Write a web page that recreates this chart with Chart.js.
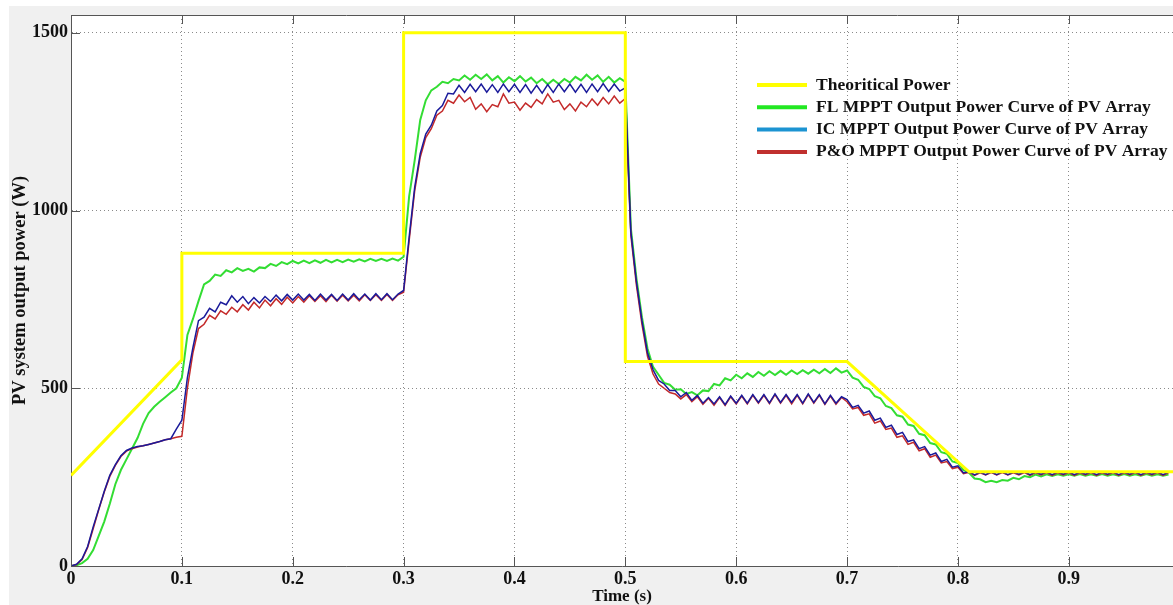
<!DOCTYPE html>
<html>
<head>
<meta charset="utf-8">
<title>PV system output power</title>
<script src="https://cdn.jsdelivr.net/npm/chart.js@4.4.1/dist/chart.umd.min.js"></script>
<style>
  html, body { margin: 0; padding: 0; background: #ffffff; }
  #wrap { width: 1173px; height: 605px; position: relative; }
</style>
</head>
<body>
<div id="wrap"><canvas id="powerChart"></canvas></div>
<script>
// sample step of the simulated curves (s)
const STEP = 0.005;

const xTicks = [0, 0.1, 0.2, 0.3, 0.4, 0.5, 0.6, 0.7, 0.8, 0.9];
const yTicks = [0, 500, 1000, 1500];

const theoryTime = [0, 0.1, 0.1, 0.3, 0.3, 0.5, 0.5, 0.7, 0.81, 0.994];
const theoryPower = [255, 580, 880, 880, 1500, 1500, 575, 575, 265, 265];

const flPower = [
  0, 2, 8, 20, 45, 85, 125, 175, 230, 270,
  300, 330, 360, 400, 430, 448, 462, 475, 488, 500,
  530, 650, 695, 745, 792, 802, 820, 816, 832, 826,
  838, 830, 836, 828, 840, 838, 850, 844, 855, 849,
  858, 851, 859, 852, 860, 853, 861, 854, 861, 855,
  862, 856, 863, 857, 864, 858, 864, 858, 865, 859,
  870, 1040, 1141, 1255, 1310, 1338, 1348, 1362, 1358, 1370,
  1366, 1380, 1368, 1382, 1370, 1383, 1366, 1378, 1360, 1375,
  1364, 1378, 1363, 1374, 1358, 1370, 1355, 1368, 1356, 1370,
  1360, 1376, 1366, 1382, 1368, 1380, 1362, 1376, 1360, 1372,
  1362, 950, 810, 700, 612, 560, 538, 515, 510, 496,
  497, 484, 489, 480, 494, 492, 512, 508, 528, 522,
  538, 528, 542, 532, 546, 535, 548, 537, 549, 538,
  550, 540, 551, 541, 552, 542, 554, 543, 556, 544,
  550, 530, 524, 504, 498, 478, 472, 450, 444, 424,
  420, 398, 394, 372, 368, 346, 342, 320, 316, 294,
  290, 270, 262, 246, 244, 236, 240, 236, 242, 240,
  248, 244, 253, 250, 257, 252, 258, 253, 258, 254,
  258, 254, 259, 254, 258, 254, 259, 254, 258, 254,
  259, 254, 258, 254, 259, 254, 258, 254, 257
];

const icPower = [
  0, 5, 20, 55, 110, 160, 210, 255, 285, 310,
  325, 332, 336, 338, 342, 346, 350, 355, 358, 385,
  410, 530, 615, 690, 700, 725, 715, 742, 735, 760,
  742, 758, 738, 755, 740, 758, 744, 762, 746, 764,
  748, 765, 748, 764, 747, 765, 748, 764, 747, 765,
  748, 766, 749, 765, 748, 766, 749, 766, 749, 765,
  775, 925, 1065, 1160, 1215, 1240, 1280, 1295, 1330, 1328,
  1352, 1332, 1355, 1334, 1356, 1333, 1354, 1332, 1356, 1334,
  1355, 1332, 1354, 1330, 1352, 1330, 1354, 1332, 1356, 1334,
  1356, 1333, 1355, 1332, 1356, 1334, 1357, 1335, 1356, 1336,
  1345, 940, 800, 690, 600, 552, 522, 512, 494, 494,
  476, 488, 466, 480, 458, 474, 456, 476, 454, 478,
  458, 480, 458, 482, 460, 482, 459, 484, 460, 482,
  460, 482, 458, 484, 460, 482, 456, 480, 458, 476,
  468, 446, 452, 430, 436, 410, 416, 390, 396, 370,
  376, 350, 355, 330, 336, 312, 318, 294, 300, 278,
  282, 262, 266, 256, 264, 257, 265, 257, 265, 257,
  264, 258, 265, 257, 264, 258, 265, 257, 264, 258,
  265, 257, 264, 258, 265, 257, 264, 258, 265, 257,
  264, 258, 265, 257, 264, 258, 265, 257, 264
];

const poPower = [
  0, 4, 18, 52, 105, 158, 208, 252, 283, 308,
  323, 330, 335, 338, 342, 346, 350, 355, 358, 362,
  365, 500, 600, 668, 680, 705, 695, 718, 708, 728,
  715, 735, 720, 742, 726, 748, 732, 752, 736, 756,
  740, 758, 742, 760, 744, 760, 744, 762, 745, 762,
  746, 762, 746, 763, 747, 763, 747, 764, 747, 763,
  770, 915, 1055, 1150, 1205, 1230, 1268, 1280, 1310, 1302,
  1325, 1306, 1318, 1285, 1300, 1278, 1298, 1292, 1328, 1302,
  1305, 1282, 1302, 1290, 1312, 1300, 1328, 1305, 1310, 1284,
  1300, 1280, 1305, 1292, 1314, 1296, 1318, 1300, 1322, 1302,
  1315, 930, 790, 680, 590, 540, 512, 500, 488, 484,
  470, 482, 462, 476, 455, 472, 452, 474, 452, 476,
  456, 478, 456, 480, 458, 480, 457, 482, 458, 480,
  456, 480, 456, 482, 458, 480, 455, 478, 455, 474,
  462, 442, 446, 424, 428, 402, 408, 384, 388, 362,
  366, 342, 348, 324, 330, 306, 312, 290, 294, 274,
  278, 260, 264, 255, 262, 256, 263, 256, 263, 256,
  262, 256, 263, 255, 262, 256, 263, 255, 262, 256,
  263, 255, 262, 256, 263, 255, 262, 256, 263, 255,
  262, 256, 263, 255, 262, 256, 263, 255, 262
];

const seriesNames = [
  "Theoritical Power",
  "FL MPPT Output Power Curve of PV Array",
  "IC MPPT Output Power Curve of PV Array",
  "P&O MPPT Output Power Curve of PV Array"
];
const legendColors = ["#ffff00", "#22e822", "#1c94d2", "#c0302e"];

function toPoints(values) {
  return values.map((v, i) => ({ x: i * STEP, y: v }));
}

const serif = '"Liberation Serif", "Times New Roman", serif';

const framePlugin = {
  id: "frame",
  beforeDraw(chart) {
    const ctx = chart.ctx;
    const a = chart.chartArea;
    ctx.save();
    ctx.fillStyle = "#ffffff";
    ctx.fillRect(0, 0, chart.width, chart.height);
    ctx.fillStyle = "#f0f0f0";
    ctx.fillRect(9, 6, chart.width - 9, chart.height - 6);
    ctx.fillStyle = "#ffffff";
    ctx.fillRect(a.left, a.top, a.right - a.left, a.bottom - a.top);
    ctx.restore();
  },
  afterDraw(chart) {
    const ctx = chart.ctx;
    const a = chart.chartArea;
    const xs = chart.scales.x;
    const ys = chart.scales.y;
    ctx.save();
    ctx.strokeStyle = "#555555";
    ctx.lineWidth = 1;
    ctx.beginPath();
    ctx.moveTo(a.left, a.top + 0.5);
    ctx.lineTo(a.right, a.top + 0.5);
    // inward tick marks
    xs.ticks.forEach((t) => {
      const px = Math.round(xs.getPixelForValue(t.value)) + 0.5;
      ctx.moveTo(px, a.bottom);
      ctx.lineTo(px, a.bottom - 9);
      ctx.moveTo(px, a.top);
      ctx.lineTo(px, a.top + 9);
    });
    ys.ticks.forEach((t) => {
      const py = Math.round(ys.getPixelForValue(t.value)) + 0.5;
      ctx.moveTo(a.left, py);
      ctx.lineTo(a.left + 9, py);
    });
    ctx.stroke();

    // legend
    ctx.font = "bold 17.5px " + serif;
    ctx.textBaseline = "middle";
    ctx.fillStyle = "#111111";
    seriesNames.forEach((name, i) => {
      const y = 85 + i * 22.3;
      ctx.strokeStyle = legendColors[i];
      ctx.lineWidth = 4;
      ctx.beginPath();
      ctx.moveTo(757, y);
      ctx.lineTo(807, y);
      ctx.stroke();
      ctx.fillText(name, 816, y);
    });
    ctx.restore();
  }
};

const ctx = document.getElementById("powerChart").getContext("2d");
const powerChart = new Chart(ctx, {
  type: "line",
  data: {
    datasets: [
      {
        label: seriesNames[0],
        data: theoryTime.map((t, i) => ({ x: t, y: theoryPower[i] })),
        borderColor: "#ffff00",
        borderWidth: 3,
        order: 0
      },
      {
        label: seriesNames[1],
        data: toPoints(flPower),
        borderColor: "#33dd33",
        borderWidth: 2,
        order: 3
      },
      {
        label: seriesNames[2],
        data: toPoints(icPower),
        borderColor: "#1a1a9a",
        borderWidth: 1.5,
        order: 1
      },
      {
        label: seriesNames[3],
        data: toPoints(poPower),
        borderColor: "#c42a2a",
        borderWidth: 1.5,
        order: 2
      }
    ]
  },
  options: {
    responsive: true,
    maintainAspectRatio: false,
    animation: false,
    parsing: false,
    elements: {
      point: { radius: 0 },
      line: { tension: 0 }
    },
    layout: { padding: { top: 15, left: 0, right: 0, bottom: 0 } },
    plugins: {
      legend: { display: false },
      tooltip: { enabled: false },
      title: { display: false }
    },
    scales: {
      x: {
        type: "linear",
        min: 0,
        max: 0.994,
        afterFit: (scale) => { scale.height = 39; },
        afterBuildTicks: (scale) => { scale.ticks = xTicks.map((v) => ({ value: v })); },
        ticks: {
          padding: 3,
          color: "#111111",
          font: { family: serif, size: 18, weight: "bold" },
          callback: (v) => String(v)
        },
        grid: { color: "#8a8a8a", drawTicks: false },
        border: { color: "#555555", dash: [1, 3] },
        title: {
          display: true,
          text: "Time (s)",
          color: "#111111",
          font: { family: serif, size: 17, weight: "bold", lineHeight: 1 },
          padding: { top: 0, bottom: 0 }
        }
      },
      y: {
        min: 0,
        max: 1550,
        afterFit: (scale) => { scale.width = 71; },
        afterBuildTicks: (scale) => { scale.ticks = yTicks.map((v) => ({ value: v })); },
        ticks: {
          padding: 3,
          color: "#111111",
          font: { family: serif, size: 18, weight: "bold" },
          callback: (v) => String(v)
        },
        grid: { color: "#8a8a8a", drawTicks: false },
        border: { color: "#555555", dash: [1, 3] },
        title: {
          display: true,
          text: "PV system output power (W)",
          color: "#111111",
          font: { family: serif, size: 18.5, weight: "bold", lineHeight: 1 },
          padding: { top: 11, bottom: 0 }
        }
      }
    }
  },
  plugins: [framePlugin]
});
</script>
</body>
</html>
